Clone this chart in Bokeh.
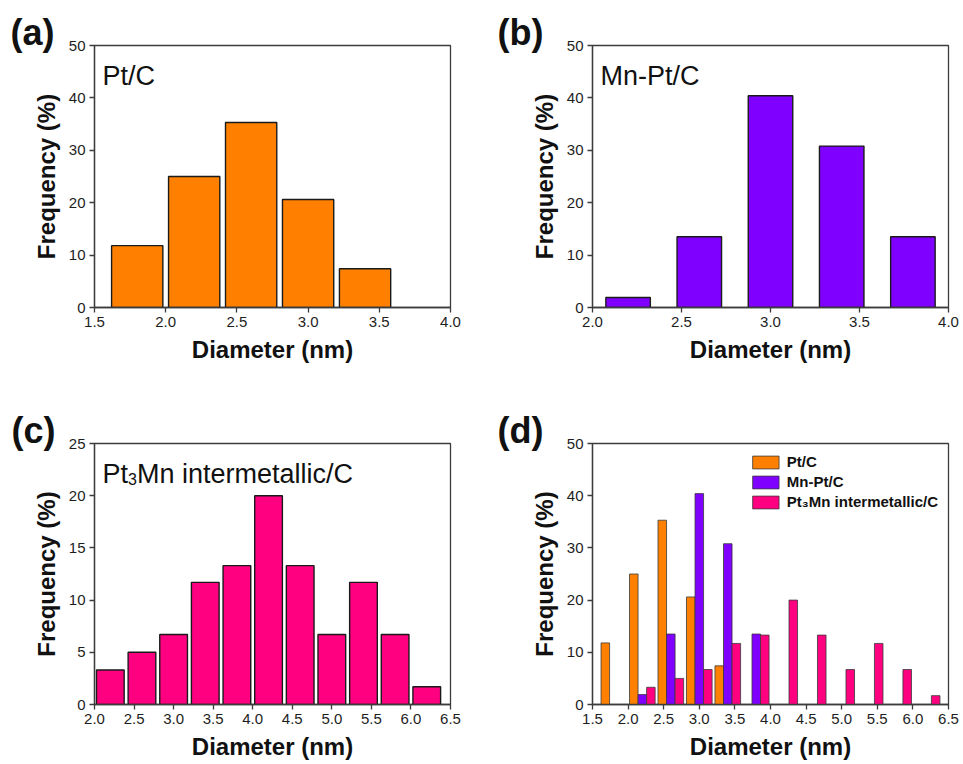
from bokeh.plotting import figure
from bokeh.layouts import column, row
from bokeh.models import Range1d, FixedTicker, PrintfTickFormatter, Label, ColumnDataSource
from bokeh.transform import dodge
from bokeh.embed import file_html
from bokeh.resources import INLINE

FONT = "Liberation Sans"
AX = "#3c3c3c"

# ---------------- data ----------------
pt_c_diam = [1.8, 2.2, 2.6, 3.0, 3.4]
pt_c_freq = [11.8, 25.0, 35.3, 20.6, 7.4]

mn_pt_c_diam = [2.2, 2.6, 3.0, 3.4, 3.8]
mn_pt_c_freq = [1.9, 13.5, 40.4, 30.8, 13.5]

pt3mn_diam = [2.2, 2.6, 3.0, 3.4, 3.8, 4.2, 4.6, 5.0, 5.4, 5.8, 6.2]
pt3mn_freq = [3.3, 5.0, 6.7, 11.7, 13.3, 20.0, 13.3, 6.7, 11.7, 6.7, 1.7]

series_names = ["Pt/C", "Mn-Pt/C", "Pt\u2083Mn intermetallic/C"]
series_colors = ["#FF8000", "#8000FF", "#FF0080"]

xticks_a = [1.5, 2.0, 2.5, 3.0, 3.5, 4.0]
xticks_b = [2.0, 2.5, 3.0, 3.5, 4.0]
xticks_c = [2.0, 2.5, 3.0, 3.5, 4.0, 4.5, 5.0, 5.5, 6.0, 6.5]
xticks_d = [1.5, 2.0, 2.5, 3.0, 3.5, 4.0, 4.5, 5.0, 5.5, 6.0, 6.5]
yticks_50 = [0, 10, 20, 30, 40, 50]
yticks_25 = [0, 5, 10, 15, 20, 25]


def make_fig(w, h, left, right, top, bottom, xr, yr, xticks, yticks):
    p = figure(width=w, height=h, x_range=Range1d(*xr), y_range=Range1d(*yr),
               output_backend="svg", toolbar_location=None,
               min_border_left=left, min_border_right=right,
               min_border_top=top, min_border_bottom=bottom)
    p.xaxis.ticker = FixedTicker(ticks=xticks)
    p.yaxis.ticker = FixedTicker(ticks=yticks)
    p.xaxis.formatter = PrintfTickFormatter(format="%.1f")
    p.xgrid.visible = False
    p.ygrid.visible = False
    for ax in (p.xaxis, p.yaxis):
        ax.major_tick_in = 0
        ax.major_tick_out = 5
        ax.minor_tick_line_color = None
        ax.axis_line_color = AX
        ax.axis_line_width = 1.3
        ax.major_tick_line_color = AX
        ax.major_tick_line_width = 1.3
        ax.major_label_text_font = FONT
        ax.major_label_text_font_size = "15px"
        ax.major_label_text_color = "#1e1e1e"
        ax.major_label_standoff = 4
        ax.axis_label_text_font = FONT
        ax.axis_label_text_font_size = "24px"
        ax.axis_label_text_font_style = "bold"
        ax.axis_label_text_color = "#111111"
        ax.axis_label_standoff = 6
    p.xaxis.axis_label = "Diameter (nm)"
    p.yaxis.axis_label = "Frequency (%)"
    p.outline_line_color = AX
    p.outline_line_width = 1.3
    p.outline_line_alpha = 1.0
    p.background_fill_color = "white"
    p.border_fill_color = "white"
    return p


def panel_title(p, text, dx):
    p.title.text = text
    p.title.align = "left"
    p.title.offset = dx
    p.title.standoff = -14
    p.title.text_font = FONT
    p.title.text_font_size = "36px"
    p.title.text_font_style = "bold"
    p.title.text_color = "#111111"


def inner_label(p, text, xr, yr, dx=8, dy=-30, size="27px"):
    p.add_layout(Label(x=xr[0], y=yr[1], x_offset=dx, y_offset=dy, text=text,
                       text_font=FONT, text_font_size=size, text_color="#111111",
                       text_baseline="alphabetic", text_align="left"))


# (a)
xr_a, yr_a = (1.5, 4.0), (0, 50)
pa = make_fig(481, 380, 94, 31, 45, 73, xr_a, yr_a, xticks_a, yticks_50)
pa.vbar(x=pt_c_diam, top=pt_c_freq, width=0.36, bottom=0,
        fill_color=series_colors[0], line_color="#1a1a1a", line_width=1.4)
panel_title(pa, "(a)", -84)
inner_label(pa, "Pt/C", xr_a, yr_a)

# (b)
xr_b, yr_b = (2.0, 4.0), (0, 50)
pb = make_fig(482, 380, 111, 15, 45, 73, xr_b, yr_b, xticks_b, yticks_50)
pb.vbar(x=mn_pt_c_diam, top=mn_pt_c_freq, width=0.25, bottom=0,
        fill_color=series_colors[1], line_color="#1a1a1a", line_width=1.4)
panel_title(pb, "(b)", -95)
inner_label(pb, "Mn-Pt/C", xr_b, yr_b)

# (c)
xr_c, yr_c = (2.0, 6.5), (0, 25)
pc = make_fig(481, 384, 94, 31, 63, 60, xr_c, yr_c, xticks_c, yticks_25)
pc.vbar(x=pt3mn_diam, top=pt3mn_freq, width=0.35, bottom=0,
        fill_color=series_colors[2], line_color="#1a1a1a", line_width=1.4)
panel_title(pc, "(c)", -83)
inner_label(pc, "Pt", xr_c, yr_c, dx=8)
inner_label(pc, "3", xr_c, yr_c, dx=33.5, dy=-35, size="16px")
inner_label(pc, "Mn intermetallic/C", xr_c, yr_c, dx=42.4)

# (d)
xr_d, yr_d = (1.5, 6.5), (0, 50)
pd_ = make_fig(482, 384, 111, 15, 63, 60, xr_d, yr_d, xticks_d, yticks_50)
src_a = ColumnDataSource(dict(x=pt_c_diam, top=pt_c_freq))
src_b = ColumnDataSource(dict(x=mn_pt_c_diam, top=mn_pt_c_freq))
src_c = ColumnDataSource(dict(x=pt3mn_diam, top=pt3mn_freq))
for src, off, col, name in zip((src_a, src_b, src_c), (-0.12, 0.0, 0.12),
                               series_colors, series_names):
    pd_.vbar(x=dodge("x", off, range=pd_.x_range), top="top", width=0.12, bottom=0,
             source=src, fill_color=col, line_color="#3a3a3a", line_width=0.8,
             legend_label=name)
leg = pd_.legend[0]
leg.location = "top_right"
leg.margin = 10
leg.padding = 0
leg.border_line_color = None
leg.background_fill_alpha = 0
leg.label_text_font = FONT
leg.label_text_font_size = "15px"
leg.label_text_font_style = "bold"
leg.label_text_color = "#111111"
leg.glyph_width = 33
leg.glyph_height = 16
leg.label_height = 16
leg.label_standoff = 5
leg.spacing = 3
panel_title(pd_, "(d)", -95)

layout = column(row(pa, pb), row(pc, pd_))
open("out.html", "w").write(file_html(layout, INLINE))
